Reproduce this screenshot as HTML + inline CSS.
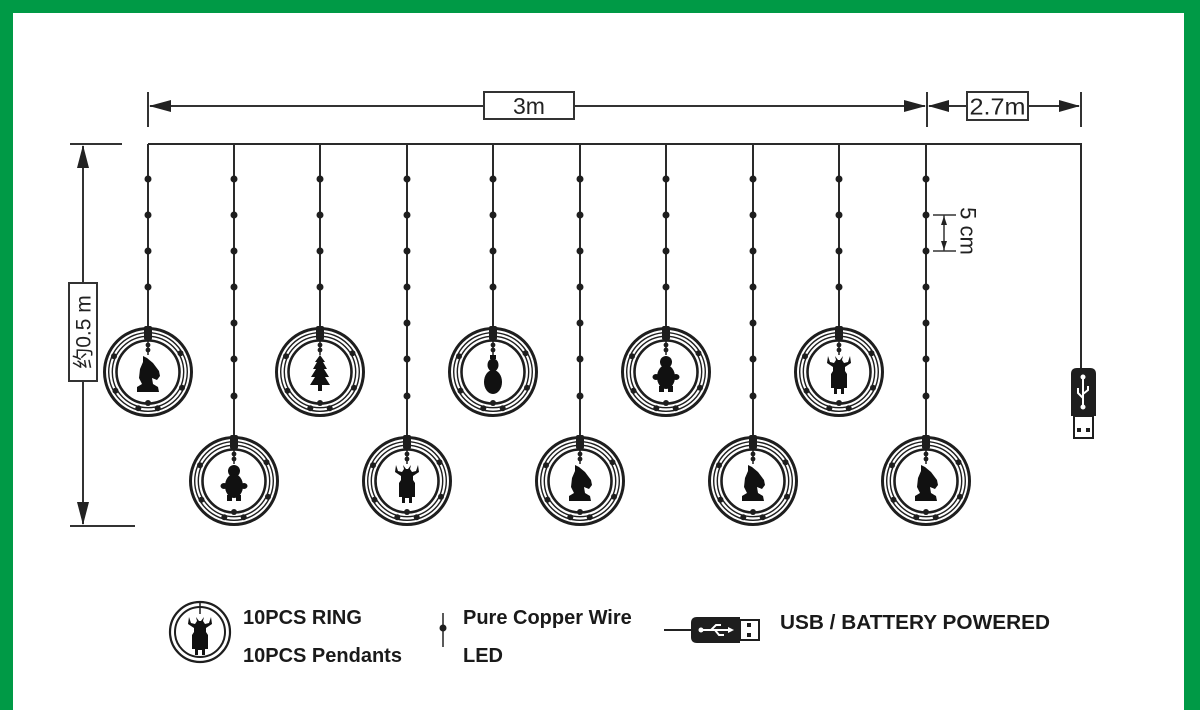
<!DOCTYPE html>
<html>
<head>
<meta charset="utf-8">
<style>
html,body{margin:0;padding:0;background:#fff;}
body{width:1200px;height:710px;overflow:hidden;}
svg{display:block;}
text{font-family:"Liberation Sans","Noto Sans CJK SC",sans-serif;fill:#222;}
.lg{font-weight:bold;font-size:20px;fill:#1a1a1a;}
</style>
</head>
<body>
<svg width="1200" height="710" viewBox="0 0 1200 710" xmlns="http://www.w3.org/2000/svg">
<defs>
  <g id="ring">
    <g fill="none" stroke="#1e1e1e">
      <circle r="43.5" stroke-width="3"/>
      <circle r="39.3" stroke-width="1.4"/>
      <circle r="35.7" stroke-width="1.4"/>
      <circle r="31.5" stroke-width="2.6"/>
    </g>
    <g fill="#1e1e1e">
      <circle cx="32.5" cy="-18.75" r="3"/>
      <circle cx="34" cy="15.8" r="3"/>
      <circle cx="9.7" cy="36.2" r="3"/>
      <circle cx="-9.7" cy="36.2" r="3"/>
      <circle cx="-32.5" cy="18.75" r="3"/>
      <circle cx="-34" cy="-15.8" r="3"/>
      <rect x="-4" y="-46" width="8" height="14" rx="2"/>
      <circle cx="0" cy="31" r="3"/>
      <circle cx="0" cy="-27" r="2.4"/>
      <circle cx="0" cy="-22" r="2.4"/>
    </g>
    <line x1="0" y1="-32" x2="0" y2="-17" stroke="#1e1e1e" stroke-width="1.5"/>
  </g>
  <g id="knight" fill="#111">
    <path d="M-11,20 L11,20 L10,15 L5,12 L4,6 L9,8 L12,4 L11,-1 L5,-9 L-1,-14 L-5,-16 L-5,-10 L-8,-3 L-9,6 L-6,12 L-11,15 Z"/>
  </g>
  <g id="santa" fill="#111">
    <circle cx="0" cy="-10" r="6"/>
    <ellipse cx="0" cy="5" rx="9" ry="12"/>
    <ellipse cx="-10" cy="5" rx="3.5" ry="3"/>
    <ellipse cx="10" cy="5" rx="3.5" ry="3"/>
    <rect x="-7" y="14" width="5" height="6"/>
    <rect x="2" y="14" width="5" height="6"/>
  </g>
  <g id="tree" fill="#111">
    <polygon points="0,-17 5,-10 3,-10 7,-3 4,-3 9,5 5,5 10,13 2,13 2,19 -2,19 -2,13 -10,13 -5,5 -9,5 -4,-3 -7,-3 -3,-10 -5,-10"/>
  </g>
  <g id="snowman" fill="#111">
    <rect x="-3" y="-17" width="6" height="4"/>
    <ellipse cx="0" cy="-7" rx="5.5" ry="6.5"/>
    <ellipse cx="0" cy="10" rx="9" ry="12"/>
  </g>
  <g id="deer" fill="#111">
    <path d="M-11,-16 L-9,-10 L-5,-9 L-3,-12 L-4,-16 L-1,-12 L1,-12 L4,-16 L3,-12 L5,-9 L9,-10 L11,-16 L12,-9 L6,-5 L6,-1 L8,2 L8,16 L5,16 L5,22 L2,22 L2,17 L-2,17 L-2,22 L-5,22 L-5,16 L-8,16 L-8,2 L-6,-1 L-6,-5 L-12,-9 Z"/>
  </g>
</defs>

<!-- green frame -->
<rect x="0" y="0" width="1200" height="13" fill="#009a46"/>
<rect x="0" y="0" width="13" height="710" fill="#009a46"/>
<rect x="1184" y="0" width="16" height="710" fill="#009a46"/>

<g stroke="#333" stroke-width="2" fill="none">
  <!-- top dimension -->
  <line x1="148" y1="92" x2="148" y2="127"/>
  <line x1="927" y1="92" x2="927" y2="127"/>
  <line x1="1081" y1="92" x2="1081" y2="127"/>
  <line x1="150" y1="106" x2="484" y2="106"/>
  <line x1="574" y1="106" x2="925" y2="106"/>
  <line x1="929" y1="106" x2="967" y2="106"/>
  <line x1="1028" y1="106" x2="1079" y2="106"/>
  <rect x="484" y="92" width="90" height="27"/>
  <rect x="967" y="92" width="61" height="28"/>
  <!-- left dimension -->
  <line x1="70" y1="144" x2="122" y2="144"/>
  <line x1="70" y1="526" x2="135" y2="526"/>
  <line x1="83" y1="146" x2="83" y2="283"/>
  <line x1="83" y1="381" x2="83" y2="524"/>
  <rect x="69" y="283" width="28" height="98"/>
  <!-- 5cm -->
  <line x1="933" y1="215" x2="956" y2="215" stroke-width="1.5"/>
  <line x1="933" y1="251" x2="956" y2="251" stroke-width="1.5"/>
  <line x1="944" y1="215" x2="944" y2="251" stroke-width="1.5"/>
</g>
<g fill="#222">
  <polygon points="149,106 171,100 171,112"/>
  <polygon points="926,106 904,100 904,112"/>
  <polygon points="928,106 949,100 949,112"/>
  <polygon points="1080,106 1059,100 1059,112"/>
  <polygon points="83,145 77,168 89,168"/>
  <polygon points="83,525 77,502 89,502"/>
  <polygon points="944,216 941,225 947,225"/>
  <polygon points="944,250 941,241 947,241"/>
</g>
<text x="529" y="114" font-size="23" text-anchor="middle">3m</text>
<text x="997.5" y="114.5" font-size="23" text-anchor="middle" textLength="56" lengthAdjust="spacingAndGlyphs">2.7m</text>
<text transform="translate(84,332) rotate(-90)" font-size="21" text-anchor="middle" dominant-baseline="central">约0.5 m</text>
<text transform="translate(968,231) rotate(90)" font-size="22" text-anchor="middle" dominant-baseline="central">5 cm</text>

<!-- main wire -->
<g stroke="#2a2a2a" stroke-width="2" fill="none">
  <polyline points="148,144 1081,144 1081,368" />
  <line x1="148" y1="144" x2="148" y2="328"/>
  <line x1="234" y1="144" x2="234" y2="437"/>
  <line x1="320" y1="144" x2="320" y2="328"/>
  <line x1="407" y1="144" x2="407" y2="437"/>
  <line x1="493" y1="144" x2="493" y2="328"/>
  <line x1="580" y1="144" x2="580" y2="437"/>
  <line x1="666" y1="144" x2="666" y2="328"/>
  <line x1="753" y1="144" x2="753" y2="437"/>
  <line x1="839" y1="144" x2="839" y2="328"/>
  <line x1="926" y1="144" x2="926" y2="437"/>
</g>
<!-- LED dots -->
<g fill="#1e1e1e">
  <circle cx="148" cy="179" r="3.5"/><circle cx="148" cy="215" r="3.5"/><circle cx="148" cy="251" r="3.5"/><circle cx="148" cy="287" r="3.5"/>
  <circle cx="320" cy="179" r="3.5"/><circle cx="320" cy="215" r="3.5"/><circle cx="320" cy="251" r="3.5"/><circle cx="320" cy="287" r="3.5"/>
  <circle cx="493" cy="179" r="3.5"/><circle cx="493" cy="215" r="3.5"/><circle cx="493" cy="251" r="3.5"/><circle cx="493" cy="287" r="3.5"/>
  <circle cx="666" cy="179" r="3.5"/><circle cx="666" cy="215" r="3.5"/><circle cx="666" cy="251" r="3.5"/><circle cx="666" cy="287" r="3.5"/>
  <circle cx="839" cy="179" r="3.5"/><circle cx="839" cy="215" r="3.5"/><circle cx="839" cy="251" r="3.5"/><circle cx="839" cy="287" r="3.5"/>

  <circle cx="234" cy="179" r="3.5"/><circle cx="234" cy="215" r="3.5"/><circle cx="234" cy="251" r="3.5"/><circle cx="234" cy="287" r="3.5"/><circle cx="234" cy="323" r="3.5"/><circle cx="234" cy="359" r="3.5"/><circle cx="234" cy="396" r="3.5"/>
  <circle cx="407" cy="179" r="3.5"/><circle cx="407" cy="215" r="3.5"/><circle cx="407" cy="251" r="3.5"/><circle cx="407" cy="287" r="3.5"/><circle cx="407" cy="323" r="3.5"/><circle cx="407" cy="359" r="3.5"/><circle cx="407" cy="396" r="3.5"/>
  <circle cx="580" cy="179" r="3.5"/><circle cx="580" cy="215" r="3.5"/><circle cx="580" cy="251" r="3.5"/><circle cx="580" cy="287" r="3.5"/><circle cx="580" cy="323" r="3.5"/><circle cx="580" cy="359" r="3.5"/><circle cx="580" cy="396" r="3.5"/>
  <circle cx="753" cy="179" r="3.5"/><circle cx="753" cy="215" r="3.5"/><circle cx="753" cy="251" r="3.5"/><circle cx="753" cy="287" r="3.5"/><circle cx="753" cy="323" r="3.5"/><circle cx="753" cy="359" r="3.5"/><circle cx="753" cy="396" r="3.5"/>
  <circle cx="926" cy="179" r="3.5"/><circle cx="926" cy="215" r="3.5"/><circle cx="926" cy="251" r="3.5"/><circle cx="926" cy="287" r="3.5"/><circle cx="926" cy="323" r="3.5"/><circle cx="926" cy="359" r="3.5"/><circle cx="926" cy="396" r="3.5"/>
</g>

<!-- rings -->
<use href="#ring" x="148" y="372"/><use href="#knight" x="148" y="372"/>
<use href="#ring" x="234" y="481"/><use href="#santa" x="234" y="481"/>
<use href="#ring" x="320" y="372"/><use href="#tree" x="320" y="372"/>
<use href="#ring" x="407" y="481"/><use href="#deer" x="407" y="481"/>
<use href="#ring" x="493" y="372"/><use href="#snowman" x="493" y="372"/>
<use href="#ring" x="580" y="481"/><use href="#knight" x="580" y="481"/>
<use href="#ring" x="666" y="372"/><use href="#santa" x="666" y="372"/>
<use href="#ring" x="753" y="481"/><use href="#knight" x="753" y="481"/>
<use href="#ring" x="839" y="372"/><use href="#deer" x="839" y="372"/>
<use href="#ring" x="926" y="481"/><use href="#knight" x="926" y="481"/>

<!-- USB plug right -->
<path d="M1071,416 L1071,374 Q1071,368 1077,368 L1090,368 Q1096,368 1096,374 L1096,416 Z" fill="#1e1e1e"/>
<rect x="1074" y="416" width="19" height="22" fill="#fff" stroke="#1e1e1e" stroke-width="2"/>
<rect x="1077" y="428" width="4" height="4" fill="#1e1e1e"/>
<rect x="1086" y="428" width="4" height="4" fill="#1e1e1e"/>
<g stroke="#fff" stroke-width="2" fill="none">
  <line x1="1083" y1="378" x2="1083" y2="407"/>
  <path d="M1083,398 L1078,393 L1078,388"/>
  <path d="M1083,394 L1088,390 L1088,386"/>
</g>
<circle cx="1083" cy="377" r="2.5" fill="#fff"/>
<circle cx="1083" cy="407" r="2.5" fill="#fff"/>

<!-- legend -->
<g fill="none" stroke="#1e1e1e">
  <circle cx="200" cy="632" r="30" stroke-width="2.2"/>
  <circle cx="200" cy="632" r="25" stroke-width="2"/>
  <line x1="200" y1="602" x2="200" y2="614" stroke-width="1.5"/>
</g>
<use href="#deer" x="200" y="633"/>
<text class="lg" x="243" y="624">10PCS RING</text>
<text class="lg" x="243" y="662">10PCS Pendants</text>

<line x1="443" y1="613" x2="443" y2="647" stroke="#222" stroke-width="1.5"/>
<circle cx="443" cy="628" r="3.5" fill="#1e1e1e"/>
<text class="lg" x="463" y="624">Pure Copper Wire</text>
<text class="lg" x="463" y="662">LED</text>

<line x1="664" y1="630" x2="692" y2="630" stroke="#222" stroke-width="2"/>
<path d="M740,617 L697,617 Q691,617 691,623 L691,637 Q691,643 697,643 L740,643 Z" fill="#1e1e1e"/>
<rect x="740" y="620" width="19" height="20" fill="#fff" stroke="#1e1e1e" stroke-width="2"/>
<rect x="747" y="623" width="4" height="4" fill="#1e1e1e"/>
<rect x="747" y="633" width="4" height="4" fill="#1e1e1e"/>
<g stroke="#fff" stroke-width="2" fill="none">
  <line x1="702" y1="630" x2="731" y2="630"/>
  <path d="M711,630 L716,625 L721,625"/>
  <path d="M715,630 L719,635 L724,635"/>
</g>
<circle cx="701" cy="630" r="2.5" fill="#fff"/>
<polygon points="734,630 728,627 728,633" fill="#fff"/>
<text class="lg" x="780" y="629" textLength="270" lengthAdjust="spacingAndGlyphs">USB / BATTERY POWERED</text>
</svg>
</body>
</html>
